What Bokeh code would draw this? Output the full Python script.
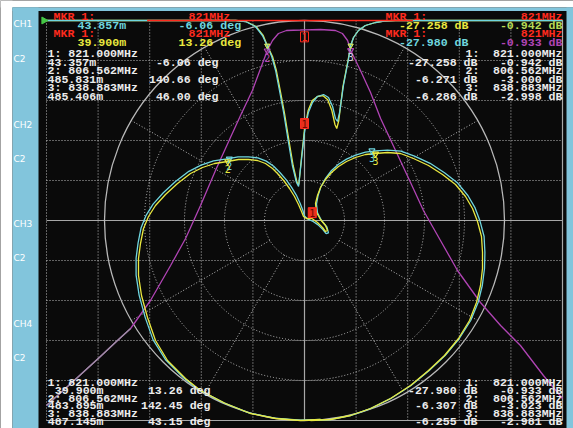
import math
from bokeh.plotting import figure
from bokeh.models import Range1d
from bokeh.core.properties import value
from bokeh.embed import file_html
from bokeh.resources import INLINE

# ------------------------------------------------------------------ data
# Log-magnitude traces (frequency in MHz, level in dB)
S21_FREQ = [721.0, 733.0, 741.9, 748.5, 753.6, 761.3, 769.1, 774.9, 780.7, 786.5,
            792.3, 796.2, 800.8, 804.7, 806.6, 808.6, 810.9, 814.0, 819.4, 821.0,
            827.2, 833.0, 835.7, 837.7, 838.9, 840.8, 842.7, 846.6, 850.5, 856.3,
            862.1, 867.1, 873.7, 880.3, 889.2, 897.0, 904.7, 913.6, 921.0]
S21_DB = [-38.5, -35.7, -33.6, -32.0, -30.8, -28.0, -24.5, -21.8, -18.5, -15.0,
          -11.7, -9.5, -7.0, -4.3, -3.0, -2.0, -1.3, -1.0, -0.95, -0.93,
          -0.9, -1.0, -1.3, -2.0, -3.0, -4.0, -5.0, -7.2, -9.8, -13.0,
          -16.2, -19.0, -22.0, -25.0, -28.2, -30.5, -32.5, -35.5, -37.8]
S21_SHADOW_MAX_FREQ = 753.6

S11C_FREQ = [721.0, 794.3, 798.1, 802.0, 804.7, 806.56, 808.3, 809.8, 811.3, 812.9,
             814.8, 816.3, 817.9, 818.7, 819.8, 821.0, 822.5, 824.1, 826.0, 828.4,
             830.3, 831.9, 833.0, 833.8, 834.6, 836.1, 838.1, 838.88, 840.0, 841.9,
             844.6, 848.5, 852.4, 856.3, 921.0]
S11C_DB = [0.0, 0.0, -0.25, -1.5, -3.75, -6.31, -9.0, -12.5, -17.5, -23.0,
           -30.5, -36.25, -40.5, -41.5, -35.0, -27.98, -23.0, -20.5, -19.0, -18.5,
           -19.25, -21.5, -24.5, -25.25, -23.0, -16.25, -9.5, -6.26, -4.25, -2.5,
           -1.25, -0.5, -0.12, 0.0, 0.0]

S11Y_FREQ = [721.0, 794.3, 798.3, 802.2, 805.0, 806.56, 808.6, 810.1, 811.6, 813.2,
             815.1, 816.6, 818.1, 818.8, 819.8, 821.0, 822.4, 824.0, 826.0, 828.2,
             830.0, 831.6, 832.8, 833.5, 834.3, 835.9, 838.0, 838.88, 840.0, 841.9,
             844.6, 848.5, 852.4, 856.3, 921.0]
S11Y_DB = [0.0, 0.0, -0.25, -1.5, -3.75, -6.27, -9.0, -12.5, -17.5, -23.0,
           -30.5, -36.25, -40.5, -41.0, -34.5, -27.26, -22.5, -20.0, -19.0, -18.8,
           -19.8, -22.5, -26.0, -27.0, -25.0, -16.5, -9.5, -6.29, -4.25, -2.5,
           -1.25, -0.5, -0.12, 0.0, 0.0]

LIMIT_FREQ = [760.0, 863.0]
LIMIT_DB = [0.0, 0.0]

# Polar traces (real, imaginary of the reflection coefficient)
POL_C_RE = [0.080, -0.020, -0.150, -0.278, -0.403, -0.530, -0.605, -0.695, -0.757, -0.797,
            -0.827, -0.842, -0.842, -0.832, -0.817, -0.792, -0.757, -0.706, -0.645, -0.578,
            -0.517, -0.455, -0.388, -0.332, -0.280, -0.233, -0.191, -0.154, -0.123, -0.092,
            -0.066, -0.041, -0.022, -0.008, 0.000, 0.015, 0.043, 0.068, 0.092, 0.108,
            0.120, 0.112, 0.085, 0.065, 0.060, 0.068, 0.082, 0.106, 0.135, 0.170,
            0.210, 0.255, 0.305, 0.355, 0.415, 0.482, 0.550, 0.628, 0.700, 0.766,
            0.817, 0.853, 0.878, 0.898, 0.902, 0.900, 0.889, 0.868, 0.831, 0.774,
            0.703, 0.622, 0.531, 0.430, 0.330, 0.230, 0.130, 0.030]
POL_C_IM = [-0.995, -0.998, -0.988, -0.962, -0.912, -0.846, -0.786, -0.696, -0.597, -0.483,
            -0.373, -0.273, -0.188, -0.112, -0.036, 0.026, 0.082, 0.139, 0.195, 0.246,
            0.277, 0.298, 0.308, 0.318, 0.318, 0.313, 0.297, 0.271, 0.240, 0.204,
            0.168, 0.127, 0.086, 0.050, 0.022, 0.008, -0.005, -0.022, -0.045, -0.066,
            -0.062, -0.032, 0.000, 0.038, 0.082, 0.125, 0.168, 0.212, 0.250, 0.281,
            0.307, 0.327, 0.342, 0.348, 0.352, 0.347, 0.322, 0.286, 0.239, 0.187,
            0.125, 0.063, -0.004, -0.080, -0.160, -0.240, -0.325, -0.410, -0.500, -0.590,
            -0.675, -0.751, -0.826, -0.891, -0.941, -0.976, -0.995, -0.999]

POL_Y_RE = [0.080, -0.020, -0.145, -0.270, -0.395, -0.520, -0.595, -0.685, -0.745, -0.785,
            -0.815, -0.830, -0.830, -0.820, -0.805, -0.780, -0.745, -0.695, -0.635, -0.570,
            -0.510, -0.450, -0.385, -0.330, -0.280, -0.235, -0.195, -0.160, -0.130, -0.100,
            -0.075, -0.050, -0.030, -0.015, -0.005, 0.010, 0.039, 0.065, 0.090, 0.105,
            0.115, 0.105, 0.080, 0.060, 0.055, 0.065, 0.080, 0.105, 0.135, 0.170,
            0.210, 0.255, 0.305, 0.355, 0.415, 0.480, 0.545, 0.620, 0.690, 0.755,
            0.805, 0.840, 0.865, 0.885, 0.890, 0.890, 0.880, 0.860, 0.825, 0.770,
            0.700, 0.620, 0.530, 0.430, 0.330, 0.230, 0.130, 0.030]
POL_Y_IM = [-0.995, -1.000, -0.990, -0.965, -0.915, -0.850, -0.790, -0.700, -0.600, -0.485,
            -0.375, -0.275, -0.190, -0.115, -0.040, 0.020, 0.075, 0.130, 0.185, 0.235,
            0.265, 0.285, 0.295, 0.305, 0.305, 0.300, 0.285, 0.260, 0.230, 0.195,
            0.160, 0.120, 0.080, 0.045, 0.020, 0.010, 0.009, -0.010, -0.035, -0.055,
            -0.050, -0.025, 0.005, 0.040, 0.085, 0.125, 0.165, 0.205, 0.240, 0.270,
            0.295, 0.315, 0.330, 0.335, 0.340, 0.335, 0.310, 0.275, 0.230, 0.180,
            0.120, 0.060, -0.005, -0.080, -0.160, -0.240, -0.325, -0.410, -0.500, -0.590,
            -0.675, -0.750, -0.825, -0.890, -0.940, -0.975, -0.995, -1.000]

# Marker readouts
MKR_FREQ = [821.000, 806.562, 838.883]
POL_C_MAG_M = [43.357, 485.831, 485.406]     # milli-units
POL_C_DEG = [-6.06, 140.66, 46.00]
POL_Y_MAG_M = [39.900, 483.895, 487.145]
POL_Y_DEG = [13.26, 142.45, 43.15]
S11Y_MKR_DB = [-27.258, -6.271, -6.286]
S21A_MKR_DB = [-0.942, -3.000, -2.998]
S11C_MKR_DB = [-27.980, -6.307, -6.255]
S21M_MKR_DB = [-0.933, -3.023, -2.981]
HDR_C_MAG_M, HDR_C_DEG = 43.857, -6.06
HDR_Y_MAG_M, HDR_Y_DEG = 39.900, 13.26
HDR_MKR_MHZ = 821

PANEL_LABELS = ["CH1", "C2", "CH2", "C2", "CH3", "C2", "CH4", "C2"]

# ------------------------------------------------------------------ layout
CX, CY, SC = 304.0, 220.0, 200.0           # polar centre (page px), px per unit
PL, PR, PT, PB = 0.0, 573.0, 0.0, 428.0    # figure edges on the page
GX = 1.29                                  # half-width of graticule (polar units)
F_START, F_STOP = 721.0, 921.0
GRID_L = CX - GX * SC
GRID_T = CY - SC
PPM = (2 * GX * SC) / (F_STOP - F_START)

BLACK = "#0a0a0a"
BLUE = "#82c5dc"
GRID_C = "#bdbdbd"
AXIS_C = "#a8a8a8"
CYAN = "#6fd6df"
YEL = "#e9e83f"
MAG = "#b044b4"
RED = "#ff2a1e"
WHITE = "#ececec"
YG = "#b6da55"
MONO = value("Liberation Mono")

p = figure(width=int(PR - PL), height=int(PB - PT), output_backend="svg",
           toolbar_location=None, tools="", x_axis_type=None, y_axis_type=None,
           x_range=Range1d((PL - CX) / SC, (PR - CX) / SC),
           y_range=Range1d((CY - PB) / SC, (CY - PT) / SC),
           min_border=0, outline_line_color=None,
           background_fill_color=BLACK, border_fill_color=BLACK)
p.extra_x_ranges = {
    "freq": Range1d(F_START + (PL - GRID_L) / PPM, F_START + (PR - GRID_L) / PPM),
    "px": Range1d(PL, PR),
}
p.extra_y_ranges = {
    "s11": Range1d(-(PB - GRID_T) / 4.0, (GRID_T - PT) / 4.0),     # 10 dB/div
    "s21": Range1d(-(PB - GRID_T) / 10.0, (GRID_T - PT) / 10.0),   # 4 dB/div
    "py": Range1d(PB, PT),
}

# frame decorations
p.quad(left=[PL, PL], right=[12, PR], top=[PT, PT], bottom=[PB, 7], x_range_name="px",
       y_range_name="py", color="white", line_color=None)
p.quad(left=[12, 12, 566], right=[38, PR, PR], top=[7, 7, 7], bottom=[PB, 10.5, PB],
       x_range_name="px", y_range_name="py", color=BLUE, line_color=None)

# graticule
vx = [-GX + k * GX / 5 for k in range(11)]
dotted_v = [x for k, x in enumerate(vx) if k not in (5, 10)]
p.segment(x0=dotted_v, y0=[-1.0] * len(dotted_v), x1=dotted_v, y1=[1.0] * len(dotted_v),
          line_color=GRID_C, line_dash="1 2", line_width=1)
hy = [1.0 - 0.2 * k for k in range(11)]
dotted_h = [y for k, y in enumerate(hy) if k not in (5, 10)]
p.segment(x0=[-GX] * len(dotted_h), y0=dotted_h, x1=[GX] * len(dotted_h), y1=dotted_h,
          line_color=GRID_C, line_dash="1 2", line_width=1)
p.segment(x0=[-GX, 0.0, -GX, GX], y0=[0.0, -1.0, -1.0, -1.0],
          x1=[GX, 0.0, GX, GX], y1=[0.0, 1.0, -1.0, 1.0],
          line_color=AXIS_C, line_width=1.2)
spokes = [30, 60, 120, 150, 210, 240, 300, 330]
p.segment(x0=[0.2 * math.cos(math.radians(a)) for a in spokes],
          y0=[0.2 * math.sin(math.radians(a)) for a in spokes],
          x1=[math.cos(math.radians(a)) for a in spokes],
          y1=[math.sin(math.radians(a)) for a in spokes],
          line_color=GRID_C, line_dash="1 2", line_width=1)
p.circle(x=[0.0] * 4, y=[0.0] * 4, radius=[0.2, 0.4, 0.6, 0.8], fill_color=None,
         line_color=GRID_C, line_dash="1 2", line_width=1)
p.circle(x=[0.0], y=[0.0], radius=[1.0], fill_color=None, line_color="#b8b8b8",
         line_width=1.3)

# log-magnitude traces
p.line(S21_FREQ, S21_DB, x_range_name="freq", y_range_name="s21", line_color=MAG,
       line_width=1.3)
n_sh = sum(1 for f in S21_FREQ if f <= S21_SHADOW_MAX_FREQ)
p.line(S21_FREQ[:n_sh], S21_DB[:n_sh], x_range_name="freq", y_range_name="s21",
       line_color="#9c92a4", line_width=1.3)
p.line(S11Y_FREQ, S11Y_DB, x_range_name="freq", y_range_name="s11", line_color=YEL,
       line_width=1.3)
p.line(S11C_FREQ, S11C_DB, x_range_name="freq", y_range_name="s11", line_color=CYAN,
       line_width=1.3)
p.line(LIMIT_FREQ, LIMIT_DB, x_range_name="freq", y_range_name="s11", line_color=RED,
       line_width=1.5)

# polar traces
p.line(POL_C_RE, POL_C_IM, line_color=CYAN, line_width=1.3)
p.line(POL_Y_RE, POL_Y_IM, line_color=YEL, line_width=1.3)

# reference position arrow
p.scatter(x=[F_START - 1.0], y=[0.0], x_range_name="freq", y_range_name="s11",
          marker="triangle", angle=-math.pi / 2, size=7, color="#46c846")


def polar_xy(mags_m, degs):
    xs = [m / 1000 * math.cos(math.radians(d)) for m, d in zip(mags_m, degs)]
    ys = [m / 1000 * math.sin(math.radians(d)) for m, d in zip(mags_m, degs)]
    return xs, ys


cmx, cmy = polar_xy(POL_C_MAG_M, POL_C_DEG)
ymx, ymy = polar_xy(POL_Y_MAG_M, POL_Y_DEG)
NUM_FONT = value("DejaVu Sans Mono")

# markers 2 / 3
for xs, ys, col in ((cmx, cmy, CYAN), (ymx, ymy, YEL)):
    p.scatter(x=xs[1:], y=ys[1:], marker="inverted_triangle", size=6,
              fill_color=None, line_color=col, line_width=1.2)
    p.text(x=xs[1:], y=ys[1:], text=["2", "3"], text_color=col, text_align="center",
           text_baseline="top", y_offset=3, text_font=NUM_FONT, text_font_size="10px")
p.scatter(x=MKR_FREQ[1:], y=S21M_MKR_DB[1:], x_range_name="freq", y_range_name="s21",
          marker="inverted_triangle", size=6, fill_color=None, line_color=MAG,
          line_width=1.2)
p.text(x=MKR_FREQ[1:], y=S21M_MKR_DB[1:], x_range_name="freq", y_range_name="s21",
       text=["2", "3"], text_color=[MAG, "#d8d0e0"], text_align="center",
       text_baseline="top", y_offset=3, text_font=NUM_FONT, text_font_size="10px")
for dbs, col in ((S11C_MKR_DB, CYAN), (S11Y_MKR_DB, YEL)):
    p.scatter(x=MKR_FREQ[1:], y=dbs[1:], x_range_name="freq", y_range_name="s11",
              marker="inverted_triangle", size=5, fill_color=None, line_color=col)

# marker 1 boxes
p.text(x=[MKR_FREQ[0]], y=[S21M_MKR_DB[0]], x_range_name="freq", y_range_name="s21",
       text=["1"], text_color=RED, text_align="center", text_baseline="top",
       y_offset=2, text_font=NUM_FONT, text_font_size="10px", border_line_color=RED,
       padding=1)
p.text(x=[MKR_FREQ[0]], y=[S11Y_MKR_DB[0]], x_range_name="freq", y_range_name="s11",
       text=["1"], text_color="#6a0800", text_align="center", text_baseline="bottom",
       y_offset=-1, text_font=NUM_FONT, text_font_size="10px", border_line_color=RED,
       background_fill_color="#e8301c", padding=1)
p.text(x=[ymx[0]], y=[ymy[0]], text=["1"], text_color="#6a0800", text_align="center",
       text_baseline="bottom", y_offset=-1, text_font=NUM_FONT, text_font_size="10px",
       border_line_color=RED, background_fill_color="#e8301c", padding=1)


# ------------------------------------------------------------------ texts
def txt(xs, ys, strs, color, align="left", size="11.6px", font=MONO, style="bold"):
    p.text(x=xs, y=ys, text=strs, x_range_name="px", y_range_name="py",
           text_color=color, text_align=align, text_baseline="middle",
           text_font=font, text_font_size=size, text_font_style=style)


# side panel
txt([13] * 8, [23, 58, 124, 158, 223, 257, 323, 357], PANEL_LABELS, "white",
    size="9px", font=value("DejaVu Sans"), style="normal")

mkr_hdr = f"{HDR_MKR_MHZ}MHz"
# top-left header
txt([53, 53], [16, 33], ["MKR  1:"] * 2, RED)
txt([188, 188], [16, 33], [mkr_hdr] * 2, RED)
txt([77, 178], [24.5, 24.5], [f"{HDR_C_MAG_M:.3f}m", f"{HDR_C_DEG:.2f} deg"], CYAN)
txt([77, 178], [42, 42], [f"{HDR_Y_MAG_M:.3f}m", f"{HDR_Y_DEG:.2f} deg"], YEL)
# top-right header
txt([385, 385], [16, 33], ["MKR  1:"] * 2, RED)
txt([562, 562], [16, 33], [mkr_hdr] * 2, RED, align="right")
txt([468], [24.5], [f"{S11Y_MKR_DB[0]:.3f} dB"], YEL, align="right")
txt([562], [24.5], [f"{S21A_MKR_DB[0]:.3f} dB"], YG, align="right")
txt([468], [42], [f"{S11C_MKR_DB[0]:.3f} dB"], CYAN, align="right")
txt([562], [42], [f"{S21M_MKR_DB[0]:.3f} dB"], MAG, align="right")

TOP_ROWS = [53, 61.5, 70, 78.5, 87, 95.5]
BOT_ROWS = [382, 390, 397.5, 405, 413, 421]

freq_rows = [f"{i + 1}:  {f:.3f}MHz" for i, f in enumerate(MKR_FREQ)]
# polar readouts (left)
txt([47] * 3, TOP_ROWS[0::2], freq_rows, WHITE)
txt([47] * 3, TOP_ROWS[1::2], [f"{m:.3f}m" for m in POL_C_MAG_M], WHITE)
txt([218] * 3, TOP_ROWS[1::2], [f"{d:.2f} deg" for d in POL_C_DEG], WHITE, align="right")
txt([47] * 3, BOT_ROWS[0::2], freq_rows, WHITE)
txt([103] * 3, BOT_ROWS[1::2], [f"{m:.3f}m" for m in POL_Y_MAG_M], WHITE, align="right")
txt([210] * 3, BOT_ROWS[1::2], [f"{d:.2f} deg" for d in POL_Y_DEG], WHITE, align="right")

# log-mag readouts (right)
for rows, s11, s21 in ((TOP_ROWS, S11Y_MKR_DB, S21A_MKR_DB),
                       (BOT_ROWS, S11C_MKR_DB, S21M_MKR_DB)):
    txt([479] * 3, rows[0::2], [f"{i + 1}:" for i in range(3)], WHITE, align="right")
    txt([562] * 3, rows[0::2], [f"{f:.3f}MHz" for f in MKR_FREQ], WHITE, align="right")
    txt([477] * 3, rows[1::2], [f"{d:.3f} dB" for d in s11], WHITE, align="right")
    txt([562] * 3, rows[1::2], [f"{d:.3f} dB" for d in s21], WHITE, align="right")

open("out.html", "w").write(file_html(p, INLINE))
